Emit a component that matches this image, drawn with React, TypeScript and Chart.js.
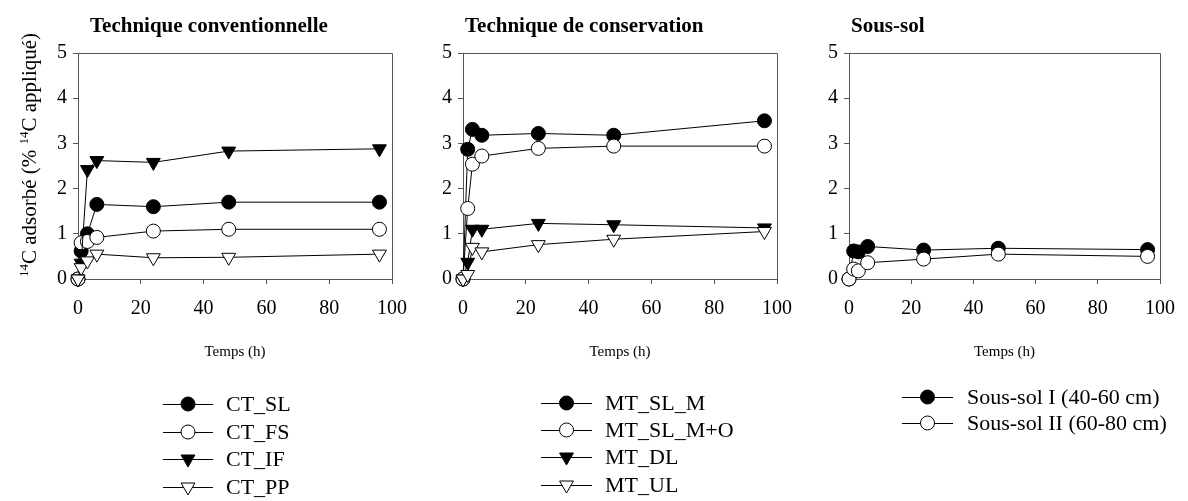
import React, { useEffect, useRef } from 'react';
import { Chart, registerables } from 'chart.js';

Chart.register(...registerables);

const FONT = "'Liberation Serif', 'Times New Roman', serif";

// ---- Data ----
const X_TICKS = [0, 20, 40, 60, 80, 100];
const Y_TICKS = [0, 1, 2, 3, 4, 5];

const CT_TIME = [0, 1, 3, 6, 24, 48, 96];
const CT_SL = [0, 0.62, 1.0, 1.65, 1.6, 1.7, 1.7];
const CT_FS = [0, 0.8, 0.83, 0.92, 1.06, 1.1, 1.1];
const CT_IF = [0, 0.35, 2.42, 2.62, 2.58, 2.83, 2.88];
const CT_PP = [0, 0.25, 0.4, 0.55, 0.47, 0.48, 0.55];

const MT_TIME = [0, 1.5, 3, 6, 24, 48, 96];
const MT_SL_M = [0, 2.87, 3.31, 3.18, 3.22, 3.18, 3.5];
const MT_SL_MO = [0, 1.56, 2.54, 2.72, 2.89, 2.94, 2.94];
const MT_DL = [0, 0.37, 1.1, 1.1, 1.23, 1.2, 1.13];
const MT_UL = [0, 0.1, 0.7, 0.6, 0.76, 0.88, 1.05];

const SS_TIME = [0, 1.5, 3, 6, 24, 48, 96];
const SS_I = [0, 0.62, 0.6, 0.72, 0.64, 0.68, 0.65];
const SS_II = [0, 0.22, 0.18, 0.36, 0.44, 0.55, 0.5];

const TITLES = ['Technique conventionnelle', 'Technique de conservation', 'Sous-sol'];
const X_TITLE = 'Temps (h)';

type Series = { label: string; data: number[]; shape: 'circle' | 'triangle'; filled: boolean };

const PANELS = [
  {
    title: TITLES[0],
    times: CT_TIME,
    series: [
      { label: 'CT_SL', data: CT_SL, shape: 'circle', filled: true },
      { label: 'CT_FS', data: CT_FS, shape: 'circle', filled: false },
      { label: 'CT_IF', data: CT_IF, shape: 'triangle', filled: true },
      { label: 'CT_PP', data: CT_PP, shape: 'triangle', filled: false },
    ] as Series[],
    left: 0, width: 420, areaLeft: 78, areaRight: 393, titleX: 90,
    legend: { x1: 163, x2: 213, textX: 226, rows: [404, 432, 459, 487] },
    yTitle: true,
  },
  {
    title: TITLES[1],
    times: MT_TIME,
    series: [
      { label: 'MT_SL_M', data: MT_SL_M, shape: 'circle', filled: true },
      { label: 'MT_SL_M+O', data: MT_SL_MO, shape: 'circle', filled: false },
      { label: 'MT_DL', data: MT_DL, shape: 'triangle', filled: true },
      { label: 'MT_UL', data: MT_UL, shape: 'triangle', filled: false },
    ] as Series[],
    left: 385, width: 420, areaLeft: 463, areaRight: 779, titleX: 465,
    legend: { x1: 541, x2: 592, textX: 605, rows: [403, 430, 457, 485] },
    yTitle: false,
  },
  {
    title: TITLES[2],
    times: SS_TIME,
    series: [
      { label: 'Sous-sol I (40-60 cm)', data: SS_I, shape: 'circle', filled: true },
      { label: 'Sous-sol II (60-80 cm)', data: SS_II, shape: 'circle', filled: false },
    ] as Series[],
    left: 771, width: 417, areaLeft: 849, areaRight: 1164, titleX: 851,
    legend: { x1: 902, x2: 953, textX: 967, rows: [397, 423] },
    yTitle: false,
  },
];

const H = 501;
const AREA_TOP = 53;
const AREA_BOTTOM = 279;
const Y_AXIS_W = 40;
const X_AXIS_H = 40;
const AXIS_COLOR = '#555';

function drawMarker(ctx: CanvasRenderingContext2D, x: number, y: number, s: Series) {
  ctx.beginPath();
  if (s.shape === 'circle') {
    ctx.arc(x, y, 7, 0, Math.PI * 2);
  } else {
    const r = 8;
    ctx.moveTo(x, y + r);
    ctx.lineTo(x - r * Math.sin(Math.PI / 3), y - r / 2);
    ctx.lineTo(x + r * Math.sin(Math.PI / 3), y - r / 2);
    ctx.closePath();
  }
  ctx.fillStyle = s.filled ? '#000' : '#fff';
  ctx.fill();
  ctx.strokeStyle = '#000';
  ctx.lineWidth = 1;
  ctx.stroke();
}

function Panel({ p }: { p: (typeof PANELS)[number] }) {
  const ref = useRef<HTMLCanvasElement>(null);
  useEffect(() => {
    if (!ref.current) return;
    const n = p.series.length;
    const datasets = p.series.map((s, i) => ({
      label: s.label,
      data: p.times.map((t, j) => ({ x: t, y: s.data[j] })),
      showLine: true,
      borderColor: '#000',
      borderWidth: 1,
      tension: 0,
      pointStyle: s.shape,
      pointRotation: s.shape === 'triangle' ? 180 : 0,
      pointRadius: s.shape === 'circle' ? 7 : 8,
      pointHoverRadius: s.shape === 'circle' ? 7 : 8,
      pointBackgroundColor: s.filled ? '#000' : '#fff',
      pointBorderColor: '#000',
      pointBorderWidth: 1,
      clip: false as any,
      order: n - 1 - i,
    }));
    const decor = {
      id: 'decor',
      beforeDatasetsDraw(chart: any) {
        const { ctx, chartArea: a } = chart;
        ctx.save();
        ctx.strokeStyle = AXIS_COLOR;
        ctx.lineWidth = 1;
        ctx.beginPath();
        const t = Math.round(a.top) + 0.5;
        const r = Math.round(a.right) + 0.5;
        ctx.moveTo(Math.round(a.left), t);
        ctx.lineTo(r, t);
        ctx.lineTo(r, Math.round(a.bottom));
        ctx.stroke();
        ctx.restore();
      },
      afterDraw(chart: any) {
        const { ctx, chartArea: a } = chart;
        const off = p.left;
        ctx.save();
        ctx.fillStyle = '#000';
        // title
        ctx.font = `bold 21px ${FONT}`;
        ctx.textBaseline = 'alphabetic';
        ctx.textAlign = 'left';
        ctx.fillText(p.title, p.titleX - off, 32);
        // x title
        ctx.font = `15px ${FONT}`;
        ctx.textAlign = 'center';
        ctx.fillText(X_TITLE, (a.left + a.right) / 2, 356);
        // legend
        p.series.forEach((s, i) => {
          const y = p.legend.rows[i];
          ctx.strokeStyle = '#000';
          ctx.lineWidth = 1;
          ctx.beginPath();
          ctx.moveTo(p.legend.x1 - off, y + 0.5);
          ctx.lineTo(p.legend.x2 - off, y + 0.5);
          ctx.stroke();
          drawMarker(ctx, (p.legend.x1 + p.legend.x2) / 2 - off, y, s);
          ctx.fillStyle = '#000';
          ctx.font = `22px ${FONT}`;
          ctx.textAlign = 'left';
          ctx.textBaseline = 'middle';
          ctx.fillText(s.label, p.legend.textX - off, y + 1);
        });
        // y title
        if (p.yTitle) {
          ctx.translate(36, 155);
          ctx.rotate(-Math.PI / 2);
          ctx.textBaseline = 'alphabetic';
          ctx.textAlign = 'left';
          const big = `21px ${FONT}`;
          const small = `13px ${FONT}`;
          const parts: [string, boolean][] = [
            ['14', true], ['C adsorbé (% ', false], ['14', true], ['C appliqué)', false],
          ];
          let total = 0;
          parts.forEach(([txt, sup]) => {
            ctx.font = sup ? small : big;
            total += ctx.measureText(txt).width;
          });
          let x = -total / 2;
          parts.forEach(([txt, sup]) => {
            ctx.font = sup ? small : big;
            ctx.fillText(txt, x, sup ? -8 : 0);
            x += ctx.measureText(txt).width;
          });
        }
        ctx.restore();
      },
    };
    const chart = new Chart(ref.current, {
      type: 'scatter',
      data: { datasets: datasets as any },
      plugins: [decor],
      options: {
        animation: false,
        responsive: false,
        events: [],
        layout: {
          padding: {
            left: p.areaLeft - p.left - Y_AXIS_W,
            right: p.left + p.width - p.areaRight,
            top: AREA_TOP,
            bottom: H - AREA_BOTTOM - X_AXIS_H,
          },
        },
        plugins: { legend: { display: false }, tooltip: { enabled: false } },
        scales: {
          x: {
            type: 'linear',
            min: X_TICKS[0],
            max: X_TICKS[X_TICKS.length - 1],
            afterBuildTicks: (s: any) => { s.ticks = X_TICKS.map((v) => ({ value: v })); },
            afterFit: (s: any) => { s.height = X_AXIS_H; },
            ticks: { font: { family: FONT, size: 20 }, color: '#000', padding: 13, maxRotation: 0 },
            grid: { drawOnChartArea: false, drawTicks: true, tickLength: 5, color: AXIS_COLOR },
            border: { display: true, color: AXIS_COLOR },
          },
          y: {
            type: 'linear',
            min: Y_TICKS[0],
            max: Y_TICKS[Y_TICKS.length - 1],
            afterBuildTicks: (s: any) => { s.ticks = Y_TICKS.map((v) => ({ value: v })); },
            afterFit: (s: any) => { s.width = Y_AXIS_W; },
            ticks: { font: { family: FONT, size: 20 }, color: '#000', padding: 6 },
            grid: { drawOnChartArea: false, drawTicks: true, tickLength: 5, color: AXIS_COLOR },
            border: { display: true, color: AXIS_COLOR },
          },
        },
      } as any,
    });
    return () => chart.destroy();
  }, [p]);
  return (
    <canvas
      ref={ref}
      width={p.width}
      height={H}
      style={{ position: 'absolute', left: p.left, top: 0, width: p.width, height: H }}
    />
  );
}

export default function App() {
  return (
    <div style={{ position: 'fixed', left: 0, top: 0, width: 1188, height: H, background: '#fff', overflow: 'hidden' }}>
      {PANELS.map((p, i) => (
        <Panel key={i} p={p} />
      ))}
    </div>
  );
}
